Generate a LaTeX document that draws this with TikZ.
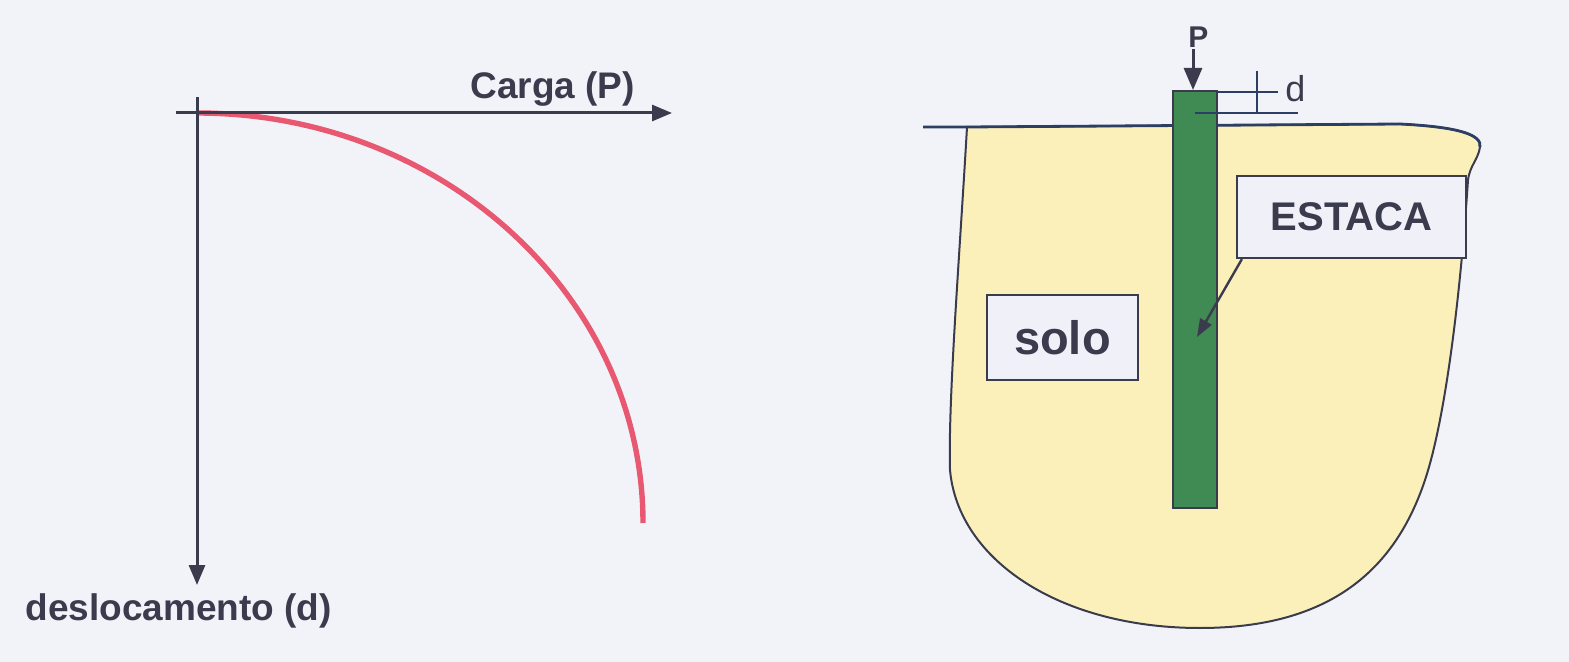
\documentclass[tikz,border=0pt]{standalone}
\usepackage{fontspec}
\setmainfont{Liberation Sans}
\usetikzlibrary{arrows.meta}
\definecolor{bg}{RGB}{242,243,248}
\definecolor{ink}{RGB}{58,60,78}
\definecolor{lineblue}{RGB}{45,62,100}
\definecolor{curvered}{RGB}{232,88,112}
\definecolor{soilfill}{RGB}{252,240,186}
\definecolor{pilegreen}{RGB}{64,138,84}
\definecolor{boxfill}{RGB}{240,241,248}
\begin{document}
\begin{tikzpicture}[x=0.5pt,y=-0.5pt,
  axis/.style={draw=ink,line width=1.5pt},
  axisarrow/.style={axis,-{Triangle[length=10pt,width=8pt]}},
  curveline/.style={draw=curvered,line width=2.7pt},
  lab/.style={text=ink,font=\fontsize{18.5pt}{20pt}\selectfont\bfseries,inner sep=0pt},
  soil/.style={fill=soilfill,draw=ink,line width=1pt},
  ground/.style={draw=lineblue,line width=1.4pt},
  pilebox/.style={fill=pilegreen,draw=ink,line width=1pt,minimum width=22pt,minimum height=208.5pt,inner sep=0pt},
  dimline/.style={draw=lineblue,line width=1.2pt},
  labelbox/.style={fill=boxfill,draw=ink,line width=1.1pt,text=ink},
  leader/.style={draw=ink,line width=1.2pt,-{Triangle[length=9pt,width=6.5pt]}}]
\fill[bg] (0,0) rectangle (1569,662);
\useasboundingbox (0,0) rectangle (1569,662);
% ---------- left: load-displacement chart ----------
\coordinate (vtop) at (197,97);
\coordinate (vbot) at (197,585);
\coordinate (hleft) at (176,113);
\coordinate (hright) at (672,113);
\coordinate (c0) at (197,113);
\coordinate (c1) at (643,523);
\draw[curveline] (c0) .. controls (443,113) and (643,297) .. (c1);
\draw[axisarrow] (vtop) -- (vbot);
\draw[axisarrow] (hleft) -- (hright);
\node[lab,anchor=base west] (carga) at (470,99) {Carga (P)};
\node[lab,anchor=base west] (desl) at (25,620) {deslocamento (d)};
% ---------- right: pile in soil ----------
\path[soil] (967,127) -- (1400,124) .. controls (1460,127) and (1482,135) .. (1480,147)
  .. controls (1478,160) and (1470,165) .. (1468,180)
  .. controls (1460,300) and (1445,420) .. (1425,480)
  .. controls (1395,570) and (1330,628) .. (1200,628)
  .. controls (1060,628) and (958,560) .. (950,470)
  .. controls (948,400) and (960,250) .. (967,127) -- cycle;
\coordinate (gl) at (923,127);
\coordinate (gs) at (967,127);
\coordinate (gr) at (1400,124);
\draw[ground] (gl) -- (gs) -- (gr) .. controls (1460,127) and (1482,135) .. (1480,147);
\node[pilebox] (pile) at (1195,299.5) {};
% displacement marks
\coordinate (dt1) at (1217,92);
\coordinate (dt2) at (1278,92);
\coordinate (db1) at (1195,113);
\coordinate (db2) at (1298,113);
\coordinate (tk1) at (1257,71);
\coordinate (tk2) at (1257,113);
\draw[dimline] (dt1) -- (dt2);
\draw[dimline] (db1) -- (db2);
\draw[dimline] (tk1) -- (tk2);
\node[text=ink,font=\fontsize{18pt}{20pt}\selectfont,inner sep=0pt,anchor=base west] (dlab) at (1285,102) {d};
% load P
\node[lab,font=\fontsize{15pt}{16pt}\selectfont\bfseries,anchor=base west] (P) at (1188,48) {P};
\coordinate (ptail) at (1193,49);
\draw[draw=ink,line width=1.5pt,-{Triangle[length=11pt,width=9pt]}] (ptail) -- (ptail |- pile.north);
% labels
\node[labelbox,minimum width=114.5pt,minimum height=41pt,font=\fontsize{20pt}{22pt}\selectfont\bfseries] (estaca) at (1351.5,217) {ESTACA};
\coordinate (tip) at (1197,337);
\draw[leader] ([xshift=3pt]estaca.south west) -- (tip);
\node[labelbox,anchor=west,minimum height=42.5pt,inner xsep=13.5pt,font=\fontsize{23.5pt}{25pt}\selectfont\bfseries] (solo) at (986,337.5) {solo\hspace{7pt}};
\end{tikzpicture}
\end{document}
